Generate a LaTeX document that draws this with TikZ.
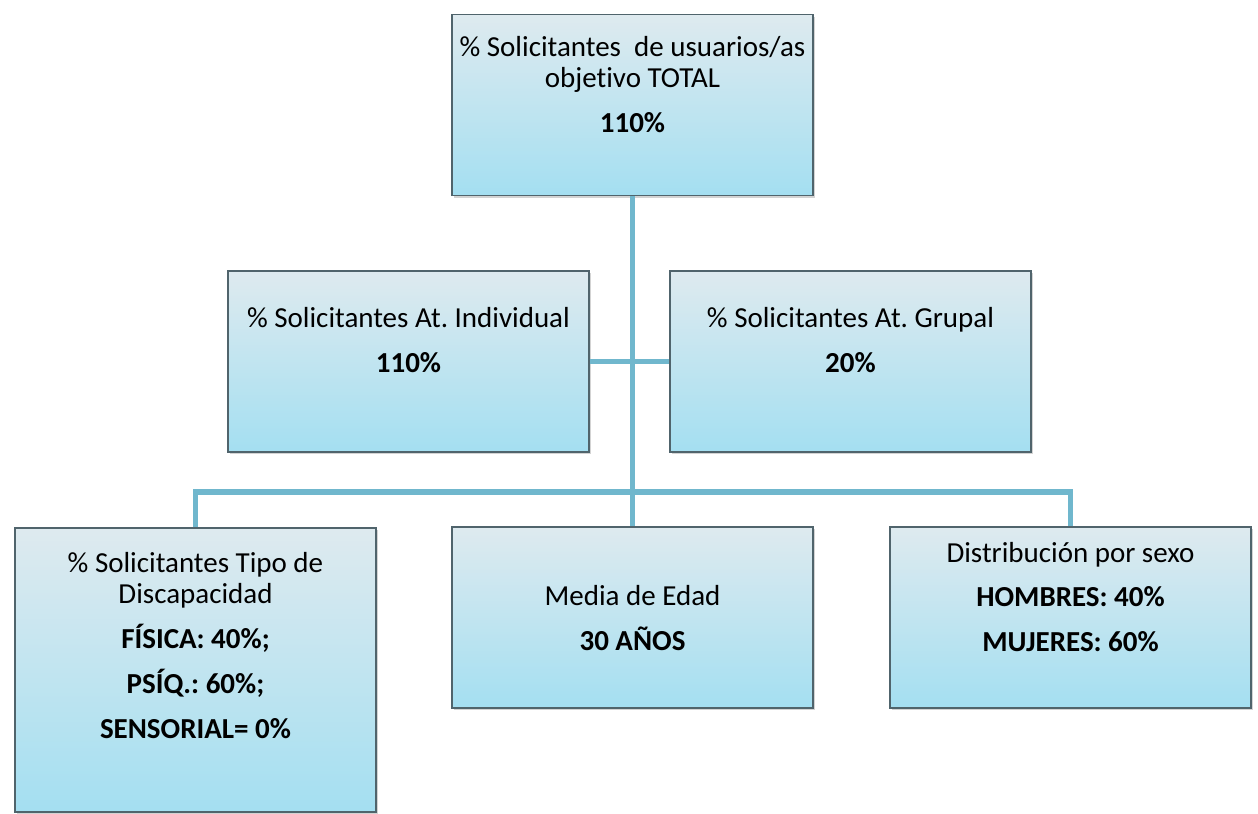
\documentclass[tikz,border=0pt]{standalone}
\usepackage{fontspec}
\setmainfont[Ligatures={NoCommon}]{Carlito}
\usepackage{tikz}
\usetikzlibrary{shapes,shadows}
\frenchspacing
\definecolor{boxtop}{RGB}{222,234,239}
\definecolor{boxbot}{RGB}{164,223,241}
\definecolor{boxedge}{RGB}{80,100,108}
\definecolor{linkblue}{RGB}{112,183,205}
\tikzstyle{box} = [rectangle, minimum width=7.22cm, minimum height=3.62cm, draw=boxedge, line width=0.7pt, top color=boxtop, bottom color=boxbot, drop shadow={shadow xshift=1.2pt, shadow yshift=-1.2pt, opacity=0.35}]
\tikzstyle{txt} = [align=center, inner sep=0pt, font=\fontsize{16.5}{17.9}\selectfont]
\tikzstyle{link} = [draw=linkblue, line width=3.4pt]

\begin{document}
\begin{tikzpicture}[x=0.02cm, y=-0.02cm]
        \useasboundingbox (0,0) rectangle (1258,814);

        % cajas
        \node (T) [box] at (632.5,105) {};
        \node (I) [box] at (408.5,361.5) {};
        \node (G) [box] at (850.5,361.5) {};
        \node (D) [box, minimum height=5.68cm] at (195.5,670) {};
        \node (M) [box] at (632.5,617.5) {};
        \node (S) [box] at (1070.5,617.5) {};
        \coordinate (bus) at (632.5,492);

        % conectores
        \draw[link] (T.south) -- (M.north);
        \draw[link] (I.east) -- (G.west);
        \draw[link] (D.north) -- (D.north |- bus) -- (S.north |- bus) -- (S.north);

        % textos
        \node (Tt) [txt] at (632.5,84.5) {\% Solicitantes\ \ de usuarios/as\\ objetivo TOTAL\\[7.6pt] \textbf{110\%}};
        \node (It) [txt] at (408.5,340) {\% Solicitantes At. Individual\\[7.6pt] \textbf{110\%}};
        \node (Gt) [txt] at (850.5,340) {\% Solicitantes At. Grupal\\[7.6pt] \textbf{20\%}};
        \node (Dt) [txt] at (195.5,645.5) {\% Solicitantes Tipo de\\ Discapacidad\\[7.6pt] \textbf{FÍSICA: 40\%;}\\[7.6pt] \textbf{PSÍQ.: 60\%;}\\[7.6pt] \textbf{SENSORIAL= 0\%}};
        \node (Mt) [txt] at (632.5,618) {Media de Edad\\[7.6pt] \textbf{30 AÑOS}};
        \node (St) [txt] at (1070.5,597) {Distribución por sexo\\[7.6pt] \textbf{HOMBRES: 40\%}\\[7.6pt] \textbf{MUJERES: 60\%}};

    \end{tikzpicture}
\end{document}
